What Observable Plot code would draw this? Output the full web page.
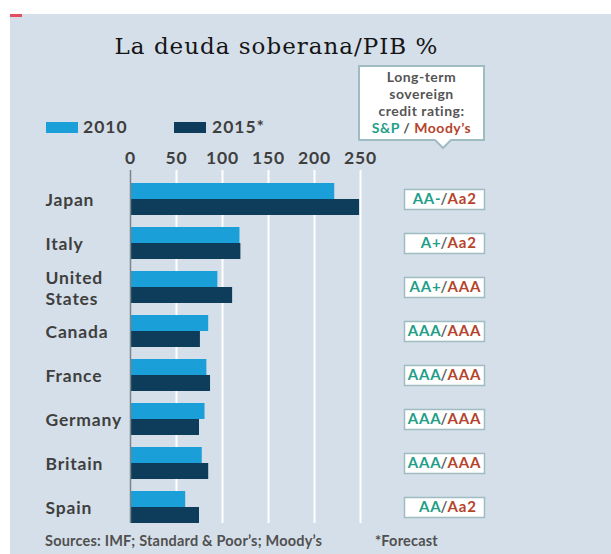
<!DOCTYPE html>
<html><head><meta charset="utf-8">
<script src="https://cdn.jsdelivr.net/npm/d3@7"></script>
<script src="https://cdn.jsdelivr.net/npm/@observablehq/plot@0.6"></script>
<style>
body{margin:0;background:#fff;width:611px;height:554px;position:relative;overflow:hidden;font-family:Lato,"Open Sans",sans-serif;}
#panel{position:absolute;left:10px;top:14px;width:601px;height:540px;background:#d5dfe9;}
#redmark{position:absolute;left:10px;top:14px;width:12px;height:3px;background:#e2505e;}
#title{position:absolute;left:0;width:553px;top:33px;text-align:center;font-family:"DejaVu Serif",serif;font-size:23px;letter-spacing:1px;color:#151515;white-space:nowrap;}
.sw{position:absolute;width:32px;height:11px;top:122px;}
.lg{position:absolute;top:116px;font-size:17.5px;font-weight:700;letter-spacing:1px;color:#3f3f3f;line-height:22px;}
#callout{position:absolute;left:358px;top:65px;width:127px;height:76px;box-sizing:border-box;border:2px solid #9fbcc3;background:#fff;text-align:center;font-size:14px;font-weight:700;line-height:17px;color:#555;padding-top:1px;letter-spacing:0.5px;}
#pointer{position:absolute;left:434px;top:139px;}
#chart{position:absolute;left:10px;top:140px;}
.foot{position:absolute;top:532px;font-size:14.5px;font-weight:700;color:#505050;line-height:18px;white-space:nowrap;letter-spacing:0.2px;}
</style></head>
<body>
<div id="panel"></div>
<div id="redmark"></div>
<div id="title">La deuda soberana/PIB %</div>
<div id="legend"></div>
<div id="callout">Long-term<br>sovereign<br>credit rating:<br><span id="cSp">S&amp;P</span> / <span id="cMd">Moody’s</span></div>
<svg id="pointer" width="18" height="12"><polygon points="1,0 9,9 17,0" fill="#fff"/><polyline points="1,1 9,9 17,1" fill="none" stroke="#9fbcc3" stroke-width="2"/></svg>
<div id="chart"></div>
<div class="foot" style="left:45px">Sources: IMF; Standard &amp; Poor’s; Moody’s</div>
<div class="foot" style="left:375px">*Forecast</div>
<script>
const countries = ["Japan","Italy","United States","Canada","France","Germany","Britain","Spain"];
const debt2010 = [222, 119, 95, 85, 83, 81, 78, 60];
const debt2015 = [249, 120, 111, 76, 87, 75, 85, 75];
const spRating = ["AA-","A+","AA+","AAA","AAA","AAA","AAA","AA"];
const moodysRating = ["Aa2","Aa2","AAA","AAA","AAA","AAA","AAA","Aa2"];
const xTicks = [0, 50, 100, 150, 200, 250];
const seriesNames = ["2010", "2015*"];
const seriesColors = ["#1a9fd8", "#0d3d5a"];
const teal = "#1f9e89", brick = "#b5442c";

document.getElementById("cSp").style.color = teal;
document.getElementById("cMd").style.color = brick;

// legend
const legend = document.getElementById("legend");
const swX = [46, 174], txX = [83, 212];
seriesNames.forEach((n, i) => {
  const s = document.createElement("div");
  s.className = "sw"; s.style.left = swX[i] + "px"; s.style.background = seriesColors[i];
  legend.appendChild(s);
  const t = document.createElement("div");
  t.className = "lg"; t.style.left = txX[i] + "px"; t.textContent = n;
  legend.appendChild(t);
});

const rows = countries.map((c, i) => ({country: c, v2010: debt2010[i], v2015: debt2015[i], sp: spRating[i], md: moodysRating[i]}));
const W = 601, H = 390, mL = 120, mR = 251, mT = 30, mB = 7;
const padIn = 0.28, padOut = 0.1126;
const step = (H - mT - mB) / (countries.length - padIn + 2 * padOut);
const half = step * (1 - padIn) / 2;
const boxSymbol = {draw(ctx) { ctx.rect(-40, -10, 80, 20); }};
const labelOf = c => c === "United States" ? "United\nStates" : c;

const chart = Plot.plot({
  width: W, height: H, marginLeft: mL, marginRight: mR, marginTop: mT, marginBottom: mB,
  style: {background: "transparent", fontFamily: "Lato", fontSize: "17.5px", fontWeight: 700, color: "#3f3f3f", letterSpacing: "0.8px", overflow: "visible"},
  x: {domain: [0, 250], axis: "top", ticks: xTicks, tickSize: 0, tickPadding: 7, label: null},
  y: {domain: countries, paddingInner: padIn, paddingOuter: padOut, align: 1, axis: null},
  marks: [
    Plot.ruleX(xTicks.slice(1), {stroke: "#fff", strokeWidth: 2}),
    Plot.barX(rows, {y: "country", x: "v2010", fill: seriesColors[0], insetBottom: half}),
    Plot.barX(rows, {y: "country", x: "v2015", fill: seriesColors[1], insetTop: half}),
    Plot.ruleX([0], {stroke: "#7d858c", strokeWidth: 1.5}),
    Plot.text(rows, {y: "country", text: d => labelOf(d.country), frameAnchor: "left", textAnchor: "start", dx: -85, lineHeight: 1.2, fill: "#3f3f3f"}),
    Plot.dot(rows, {y: "country", frameAnchor: "right", dx: 84, symbol: boxSymbol, fill: "#fff", stroke: "#9fbcc3", strokeWidth: 1.5}),
    Plot.text(rows, {y: "country", text: "sp", frameAnchor: "right", dx: 81, textAnchor: "end", fill: teal, fontSize: 15, fontWeight: 700, letterSpacing: "0.3px"}),
    Plot.text(rows, {y: "country", text: () => "/", frameAnchor: "right", dx: 84, textAnchor: "middle", fill: "#666", fontSize: 15, fontWeight: 700}),
    Plot.text(rows, {y: "country", text: "md", frameAnchor: "right", dx: 87, textAnchor: "start", fill: brick, fontSize: 15, fontWeight: 700, letterSpacing: "0.3px"})
  ]
});
document.getElementById("chart").appendChild(chart);
</script>
</body></html>
